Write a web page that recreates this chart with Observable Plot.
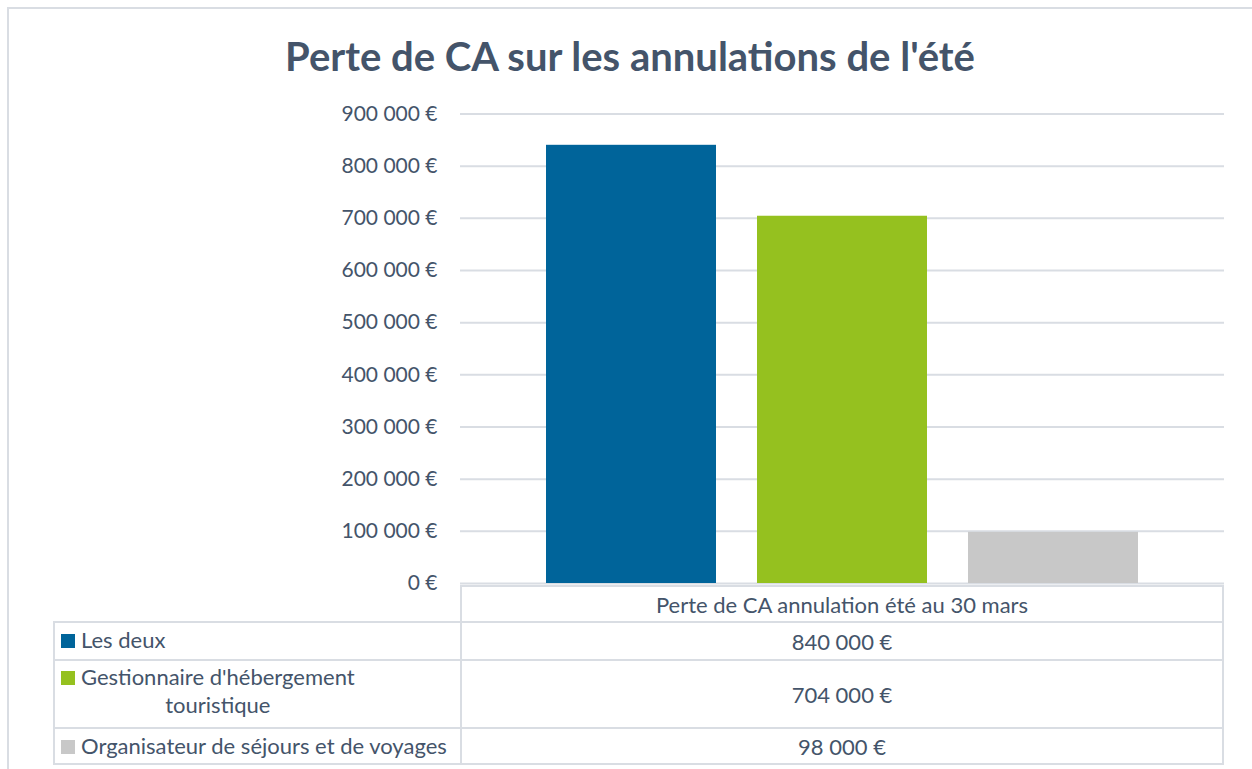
<!DOCTYPE html>
<html>
<head>
<meta charset="utf-8">
<script src="https://cdn.jsdelivr.net/npm/d3@7"></script>
<script src="https://cdn.jsdelivr.net/npm/@observablehq/plot@0.6"></script>
<style>
  html, body { margin: 0; padding: 0; background: #fff; }
  #root { position: relative; width: 1252px; height: 769px; overflow: hidden; font-family: Lato, "Open Sans", sans-serif; color: #44546a; }
  .abs { position: absolute; }
</style>
</head>
<body>
<div id="root"></div>
<script>
// ---- data ----
const title = "Perte de CA sur les annulations de l'été";
const seriesLabel = "Perte de CA annulation été au 30 mars";
const categories = ["Les deux", "Gestionnaire d'hébergement touristique", "Organisateur de séjours et de voyages"];
const legendLabels = ["Les deux", "Gestionnaire d'hébergement\ntouristique", "Organisateur de séjours et de voyages"];
const values = [840000, 704000, 98000];
const colors = ["#00649a", "#95c11f", "#c8c8c8"];
const yTicks = [0, 100000, 200000, 300000, 400000, 500000, 600000, 700000, 800000, 900000];

const TEXT = "#44546a";
const LINE = "#d9dde3";
const locale = d3.formatLocale({decimal: ",", thousands: " ", grouping: [3], currency: ["", " €"]});
const fmt = locale.format("$,");

const data = categories.map((c, i) => ({category: c, value: values[i]}));

const root = document.getElementById("root");
function box(css, html) {
  const d = document.createElement("div");
  d.className = "abs";
  d.style.cssText = css;
  if (html != null) d.textContent = html;
  root.appendChild(d);
  return d;
}

// outer frame
box(`left:7px;top:7px;width:1245px;height:2px;background:${LINE};`);
box(`left:7px;top:7px;width:2px;height:762px;background:${LINE};`);

// title
box(`left:8px;top:29px;width:1244px;text-align:center;font-weight:bold;font-size:40px;line-height:54px;color:${TEXT};`, title);

// chart
const svgTop = 90;
const chart = Plot.plot({
  width: 1252,
  height: 510,
  marginLeft: 460,
  marginRight: 28,
  marginTop: 23.5,
  marginBottom: 17,
  style: {background: "transparent", fontFamily: "Lato, 'Open Sans', sans-serif", fontSize: "21px", color: TEXT},
  x: {domain: categories, paddingInner: 0.193, paddingOuter: 0.4, axis: null},
  y: {domain: [0, 900000], axis: null},
  color: {domain: categories, range: colors},
  marks: [
    Plot.ruleY(yTicks, {stroke: LINE, strokeWidth: 2}),
    Plot.barY(data, {x: "category", y: "value", fill: "category"}),
    Plot.axisY({ticks: yTicks, tickFormat: fmt, tickSize: 0, tickPadding: 23, fontSize: 21, label: null})
  ]
});
chart.style.position = "absolute";
chart.style.left = "0px";
chart.style.top = svgTop + "px";
root.appendChild(chart);

// data table below
const colL = 53, colM = 460, colR = 1224;
const rowY = [585, 621, 659, 727, 765];
const FS = 22;
// header cell (right column only)
box(`left:${colM}px;top:${rowY[0]}px;width:${colR - colM}px;height:${rowY[1] - rowY[0]}px;box-sizing:border-box;border:2px solid ${LINE};border-bottom:none;display:flex;align-items:center;justify-content:center;font-size:${FS}px;`, seriesLabel);
for (let i = 0; i < categories.length; i++) {
  const top = rowY[i + 1], h = rowY[i + 2] - rowY[i + 1];
  // left cell
  const l = box(`left:${colL}px;top:${top}px;width:${colM - colL}px;height:${h}px;box-sizing:border-box;border-top:2px solid ${LINE};border-left:2px solid ${LINE};${i === categories.length - 1 ? `border-bottom:2px solid ${LINE};` : ""}`);
  const key = document.createElement("div");
  key.style.cssText = `position:absolute;left:6px;top:${i === 1 ? 10 : Math.round(h / 2 - 8)}px;width:14px;height:14px;background:${colors[i]};`;
  l.appendChild(key);
  const lab = document.createElement("div");
  lab.style.cssText = `position:absolute;left:26px;top:${i === 1 ? 2 : 3}px;white-space:pre;text-align:center;font-size:${FS}px;line-height:28px;`;
  lab.textContent = legendLabels[i];
  l.appendChild(lab);
  // right cell
  box(`left:${colM}px;top:${top}px;width:${colR - colM}px;height:${h}px;box-sizing:border-box;border-top:2px solid ${LINE};border-left:2px solid ${LINE};border-right:2px solid ${LINE};${i === categories.length - 1 ? `border-bottom:2px solid ${LINE};` : ""}display:flex;align-items:center;justify-content:center;font-size:${FS}px;`, fmt(values[i]));
}
</script>
</body>
</html>
